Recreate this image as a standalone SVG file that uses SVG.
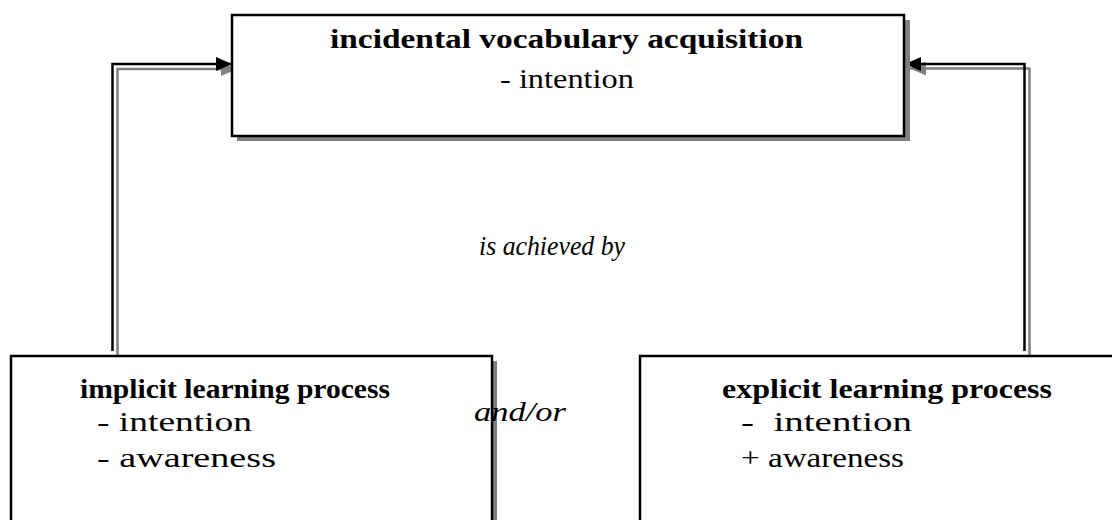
<svg xmlns="http://www.w3.org/2000/svg" width="1112" height="520" viewBox="0 0 1112 520">
  <style>
    .box { fill: #ffffff; stroke: #000000; stroke-width: 2.5; }
    .shadow { fill: #808080; }
    .t { font-family: "Liberation Serif", "Times New Roman", serif; font-size: 28px; fill: #000000; }
    .b { font-weight: bold; }
    .i { font-style: italic; }
    .ln { fill: none; stroke: #000000; stroke-width: 2.5; }
    .lg { fill: none; stroke: #808080; stroke-width: 2.5; }
  </style>
  <defs>
    <marker id="ahBlack" viewBox="0 0 16 14" refX="16" refY="7" markerWidth="16" markerHeight="14" markerUnits="userSpaceOnUse" orient="auto">
      <path d="M0,0 L16,7 L0,14 Z" fill="#000000"/>
    </marker>
    <marker id="ahGray" viewBox="0 0 16 14" refX="16" refY="7" markerWidth="16" markerHeight="14" markerUnits="userSpaceOnUse" orient="auto">
      <path d="M0,0 L16,7 L0,14 Z" fill="#808080"/>
    </marker>
  </defs>

  <rect width="1112" height="520" fill="#ffffff"/>

  <!-- connectors: double line (gray offset under black) from each process up to the acquisition box -->
  <g id="connectors">
    <polyline class="lg" points="117.5,356 117.5,69 237,69" marker-end="url(#ahGray)"/>
    <polyline class="ln" points="112.5,351 112.5,64 232,64" marker-end="url(#ahBlack)"/>
    <polyline class="lg" points="1029.5,356 1029.5,68.5 910,68.5" marker-end="url(#ahGray)"/>
    <polyline class="ln" points="1024.5,351 1024.5,64 905,64" marker-end="url(#ahBlack)"/>
  </g>

  <!-- top node -->
  <g id="acquisition">
    <rect class="shadow" x="237" y="20" width="673" height="121"/>
    <rect class="box" x="232" y="15" width="672" height="121"/>
    <text class="t b" x="330" y="48" textLength="473" lengthAdjust="spacingAndGlyphs">incidental vocabulary acquisition</text>
    <text class="t" x="500" y="88" textLength="134" lengthAdjust="spacingAndGlyphs">- intention</text>
  </g>

  <g id="relation-label">
    <text class="t i" x="479" y="255" textLength="146" lengthAdjust="spacingAndGlyphs">is achieved by</text>
  </g>

  <!-- lower left node -->
  <g id="implicit">
    <rect class="shadow" x="16" y="361" width="481" height="180"/>
    <rect class="box" x="11" y="356" width="481" height="180"/>
    <text class="t b" x="80" y="398" textLength="310" lengthAdjust="spacingAndGlyphs">implicit learning process</text>
    <text class="t" x="97" y="431" textLength="155" lengthAdjust="spacingAndGlyphs">- intention</text>
    <text class="t" x="97" y="467" textLength="179" lengthAdjust="spacingAndGlyphs">- awareness</text>
  </g>

  <!-- lower right node -->
  <g id="explicit">
    <rect class="box" x="640" y="356" width="490" height="180"/>
    <text class="t b" x="722" y="398" textLength="330" lengthAdjust="spacingAndGlyphs">explicit learning process</text>
    <text class="t" x="741" y="431" textLength="171" lengthAdjust="spacingAndGlyphs" xml:space="preserve">-  intention</text>
    <text class="t" x="741" y="467" textLength="163" lengthAdjust="spacingAndGlyphs">+ awareness</text>
  </g>

  <g id="andor-label">
    <text class="t i" x="474" y="421" textLength="92" lengthAdjust="spacingAndGlyphs">and/or</text>
  </g>
</svg>
